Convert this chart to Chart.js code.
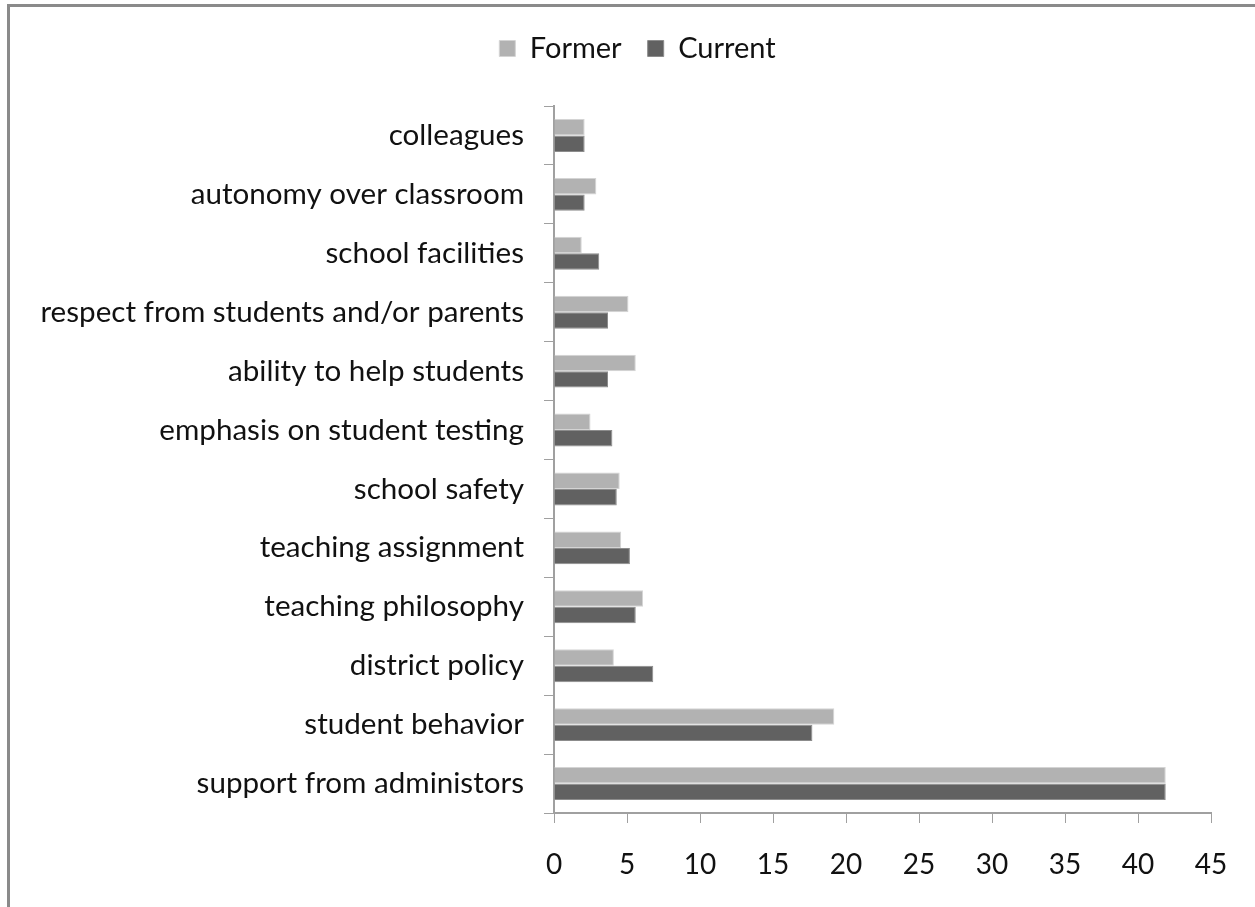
<!DOCTYPE html>
<html>
<head>
<meta charset="utf-8">
<script src="https://cdn.jsdelivr.net/npm/chart.js@4.4.1/dist/chart.umd.min.js"></script>
<style>
  body { margin: 0; background: #fff; }
  #wrap { position: relative; width: 1255px; height: 907px; overflow: hidden; }
  #frame { position: absolute; left: 7px; top: 4px; width: 1260px; height: 910px;
    border-left: 3px solid #8a8a8a; border-top: 3px solid #8a8a8a; }
  canvas { position: absolute; left: 0; top: 0; }
</style>
</head>
<body>
<div id="wrap">
  <div id="frame"></div>
  <canvas id="chart-bar_reasons" width="1255" height="907"></canvas>
</div>
<script>
// ------------- DATOS
const categorias = [
  'colleagues',
  'autonomy over classroom',
  'school facilities',
  'respect from students and/or parents',
  'ability to help students',
  'emphasis on student testing',
  'school safety',
  'teaching assignment',
  'teaching philosophy',
  'district policy',
  'student behavior',
  'support from administors'
];
const valoresFormer = [2.1, 2.9, 1.9, 5.1, 5.6, 2.5, 4.5, 4.6, 6.1, 4.1, 19.2, 41.9];
const valoresCurrent = [2.1, 2.1, 3.1, 3.7, 3.7, 4.0, 4.3, 5.2, 5.6, 6.8, 17.7, 41.9];
const ticksX = [0, 5, 10, 15, 20, 25, 30, 35, 40, 45];

const fuente = "Lato, 'Open Sans', sans-serif";

// ---------- GRÁFICO DE BARRAS HORIZONTALES
const ctx = document.getElementById('chart-bar_reasons').getContext('2d');
let myChartReasons = new Chart(ctx, {
  type: 'bar',
  data: {
    labels: categorias,
    datasets: [{
      label: 'Former',
      data: valoresFormer,
      xAxisID: 'x',
      yAxisID: 'y',
      backgroundColor: '#b2b2b2',
      borderColor: '#d4d4d4',
      borderWidth: 1,
      barPercentage: 1,
      categoryPercentage: 0.56
    }, {
      label: 'Current',
      data: valoresCurrent,
      xAxisID: 'x',
      yAxisID: 'y',
      backgroundColor: '#616161',
      borderColor: '#8c8c8c',
      borderWidth: 1,
      barPercentage: 1,
      categoryPercentage: 0.56
    }]
  },
  options: {
    indexAxis: 'y',
    responsive: false,
    animation: false,
    layout: {
      // derecha negativa para centrar la leyenda como en el original
      padding: { top: 8, right: -20, bottom: 0, left: 0 }
    },
    plugins: {
      legend: {
        position: 'top',
        labels: {
          boxWidth: 16,
          boxHeight: 16,
          color: '#111',
          padding: 26,
          font: { family: fuente, size: 29 }
        }
      },
      tooltip: { enabled: false }
    },
    scales: {
      x: {
        min: 0,
        max: 45,
        afterBuildTicks: function (scale) {
          scale.ticks = ticksX.map(v => ({ value: v }));
        },
        afterFit: function (scale) {
          scale.height = 94;
        },
        grid: {
          display: true,
          drawOnChartArea: false,
          drawTicks: true,
          tickLength: 10,
          color: '#a0a0a0'
        },
        border: { color: '#a0a0a0', width: 2 },
        ticks: {
          color: '#111',
          padding: 25,
          font: { family: fuente, size: 28 }
        }
      },
      y: {
        afterFit: function (scale) {
          scale.width = 554;
        },
        grid: {
          display: true,
          drawOnChartArea: false,
          drawTicks: true,
          tickLength: 10,
          color: '#a0a0a0'
        },
        border: { color: '#a0a0a0', width: 2 },
        ticks: {
          color: '#111',
          padding: 20,
          autoSkip: false,
          font: { family: fuente, size: 29.6 }
        }
      },
      // espacio vacío entre la leyenda y el área del gráfico
      gap: {
        type: 'linear',
        position: 'top',
        display: true,
        afterFit: function (scale) {
          scale.height = 33;
        },
        grid: { display: false },
        border: { display: false },
        ticks: { display: false }
      },
      // espacio vacío a la derecha
      gapR: {
        type: 'linear',
        position: 'right',
        display: true,
        afterFit: function (scale) {
          scale.width = 64;
        },
        grid: { display: false },
        border: { display: false },
        ticks: { display: false }
      }
    }
  }
});
</script>
</body>
</html>
